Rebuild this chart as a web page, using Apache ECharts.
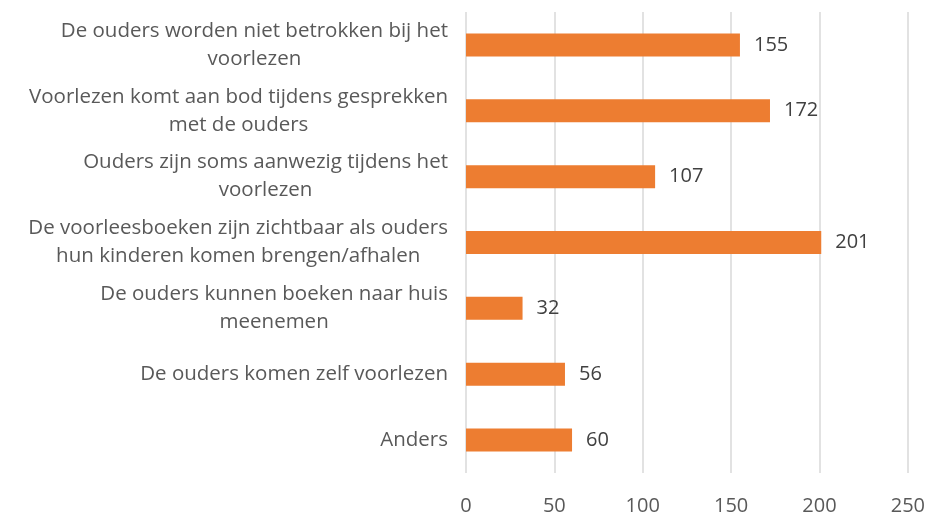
<!DOCTYPE html>
<html>
<head>
<meta charset="utf-8">
<script src="https://cdn.jsdelivr.net/npm/echarts@6/dist/echarts.min.js"></script>
<style>
  html, body { margin: 0; padding: 0; background: #fff; }
  #chart { width: 928px; height: 516px; }
</style>
</head>
<body>
<div id="chart"></div>
<script>
// categories, top to bottom
var categories = [
    'De ouders worden niet betrokken bij het\nvoorlezen',
    'Voorlezen komt aan bod tijdens gesprekken\nmet de ouders',
    'Ouders zijn soms aanwezig tijdens het\nvoorlezen',
    'De voorleesboeken zijn zichtbaar als ouders\nhun kinderen komen brengen/afhalen',
    'De ouders kunnen boeken naar huis\nmeenemen',
    'De ouders komen zelf voorlezen',
    'Anders'
];
var counts = [155, 172, 107, 201, 32, 56, 60];
var xTicks = [0, 50, 100, 150, 200, 250];

var myChart = echarts.init(document.getElementById('chart'));

var option = {
    animation: false,
    grid: {
        left: 466,
        right: 20,
        top: 12,
        bottom: 41
    },
    xAxis: {
        type: 'value',
        min: xTicks[0],
        max: xTicks[xTicks.length - 1],
        interval: 50,
        axisLine: { show: false },
        axisTick: { show: false },
        splitLine: {
            lineStyle: { color: '#d9d9d9', width: 1.5 }
        },
        axisLabel: {
            color: '#595959',
            fontSize: 20,
            fontFamily: 'Open Sans',
            margin: 23
        }
    },
    yAxis: {
        type: 'category',
        inverse: true,
        data: categories,
        axisLine: { show: false },
        axisTick: { show: false },
        axisLabel: {
            align: 'right',
            margin: 18,
            // each line centred inside the right-aligned block
            formatter: function (v) {
                return v.split('\n').map(function (l) {
                    return '{c|' + l + '}';
                }).join('\n');
            },
            rich: {
                c: {
                    align: 'center',
                    color: '#595959',
                    fontSize: 20.5,
                    fontFamily: 'Open Sans',
                    lineHeight: 28
                }
            }
        }
    },
    series: [{
        type: 'bar',
        data: counts,
        barWidth: 23,
        itemStyle: { color: '#ED7D31' },
        label: {
            show: true,
            position: 'right',
            distance: 14,
            color: '#404040',
            fontSize: 20,
            fontFamily: 'Open Sans'
        }
    }]
};

myChart.setOption(option);
</script>
</body>
</html>
